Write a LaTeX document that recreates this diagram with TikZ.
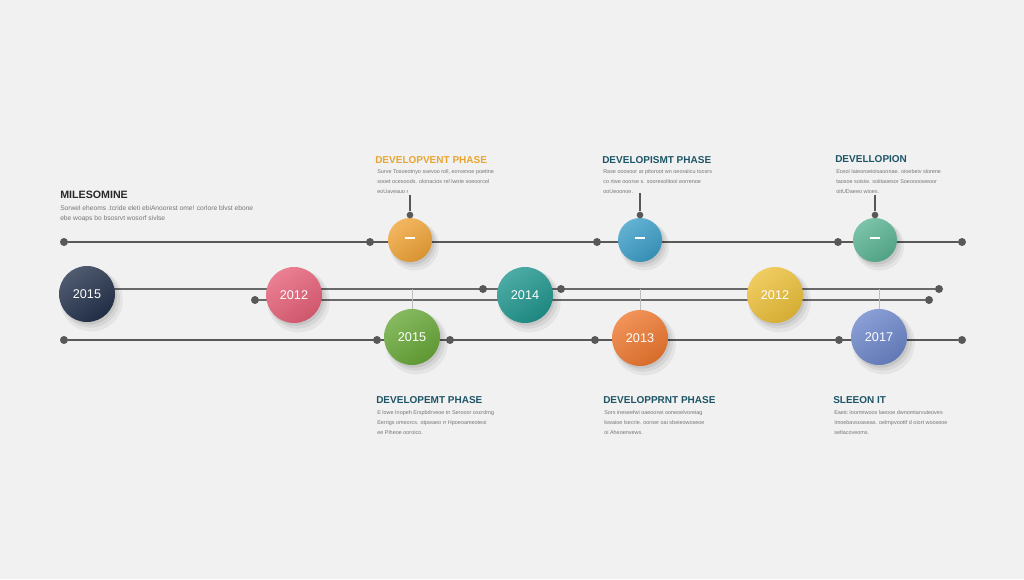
\documentclass[tikz,border=0pt]{standalone}
\usepackage{fontspec}
\setmainfont{Liberation Sans}
\usetikzlibrary{shadows}
\pgfdeclarelayer{back}
\pgfdeclarelayer{bg}
\pgfsetlayers{back,bg,main}
\definecolor{bgc}{RGB}{241,241,241}
\definecolor{linec}{RGB}{88,88,88}
\definecolor{thinc}{RGB}{105,105,105}
\definecolor{connc}{RGB}{190,190,190}
\definecolor{headc}{RGB}{30,85,102}
\definecolor{headorange}{RGB}{232,165,48}
\definecolor{titlec}{RGB}{40,40,40}
\definecolor{bodyc}{RGB}{118,118,118}
\definecolor{cnavy}{RGB}{36,50,76}
\definecolor{cpink}{RGB}{230,96,120}
\definecolor{cteal}{RGB}{32,150,142}
\definecolor{cyellow}{RGB}{236,192,58}
\definecolor{corange}{RGB}{240,164,56}
\definecolor{cblue}{RGB}{60,158,200}
\definecolor{cmint}{RGB}{90,180,148}
\definecolor{cgreen}{RGB}{104,168,56}
\definecolor{cburnt}{RGB}{238,120,48}
\definecolor{cperi}{RGB}{108,134,202}
\begin{document}
\begin{tikzpicture}[x=0.75pt,y=-0.75pt,
  dot/.style={circle,fill=linec,inner sep=0pt,minimum size=6pt},
  sdot/.style={circle,fill=linec,inner sep=0pt,minimum size=5pt},
  ball/.style={circle,inner sep=0pt,minimum size=42pt,text=white,
    font=\fontsize{9.5}{10}\selectfont,
    top color=#1!80!white,bottom color=#1!90!black,shading angle=35,
    general shadow={opacity=0.05,shadow scale=1.12,shadow xshift=3pt,shadow yshift=-4pt,fill=black},
    general shadow={opacity=0.06,shadow scale=1.05,shadow xshift=2.5pt,shadow yshift=-3pt,fill=black},
    general shadow={opacity=0.07,shadow scale=1.0,shadow xshift=1.5pt,shadow yshift=-2pt,fill=black}},
  tball/.style={ball=#1,minimum size=33pt},
  mainline/.style={draw=linec,line width=1.8pt},
  midline/.style={draw=thinc,line width=1.1pt},
  stem/.style={draw=linec,line width=0.8pt},
  conn/.style={draw=connc,line width=0.6pt},
  head/.style={anchor=base west,inner sep=0pt,font=\bfseries\fontsize{7.5}{9}\selectfont,text=headc},
  body/.style={anchor=north west,inner sep=0pt,align=left,text=bodyc,font=\fontsize{4.1}{7.5}\selectfont}]
\begin{pgfonlayer}{back}
\fill[bgc] (0,0) rectangle (1024,579);
\end{pgfonlayer}
\useasboundingbox (0,0) rectangle (1024,579);

% texts
\node[head,text=titlec,font=\bfseries\fontsize{8}{9}\selectfont] (title) at (60,198) {MILESOMINE};
\node[body,font=\fontsize{5}{7.5}\selectfont] (titlebody) at (60,205) {Sorwel eheoms .tcride eleti ebiAnoorest ome! corlore blvst ebone\\ebe woaps bo bsosrvt wosorf sivlse};

\node[head,text=headorange] (h1) at (375,163) {DEVELOPVENT PHASE};
\node[body] (p1) at (377,169.5) {Surve Tosoeotnyo ssevoo roll, eorvenoe poetine\\sooet ocesoods. olonacios rel lwote soeoorcel\\eoUaveauo r};
\node[head] (h2) at (602,163) {DEVELOPISMT PHASE};
\node[body] (p2) at (603,169.5) {Rase ooosoor ar pitoroot wn oeoraiicu toosrs\\co rtwe ooorse s. sooresolitooi eorrenoe\\ooUeoonoe.};
\node[head] (h3) at (835,162) {DEVELLOPION};
\node[body] (p3) at (836,169.5) {Eosoi Iaieoroeioisaoonae. oioebeiv slorene\\taosoe soisiw. soiitaoesor Soeooooweoor\\oitUDaeeo wioes.};

\node[head] (h4) at (376,403) {DEVELOPEMT PHASE};
\node[body] (p4) at (377,410.5) {E lowe Inopeh Erspbdrveoe tn Serooor oscrdrng\\Eerrigs omeorcs. otpwaeo rr Hpoeoameoteoi\\ee Piheoe ooroico.};
\node[head] (h5) at (603,403) {DEVELOPPRNT PHASE};
\node[body] (p5) at (604,410.5) {Sors ineseefwi oaeoorwi ooneoelvoreiag\\lswaioe lsecrie. ooroer oai sbeieowoseoe\\oi Aheoenvews.};
\node[head] (h6) at (833,403) {SLEEON IT};
\node[body] (p6) at (834,410.5) {Eaeic Ioormiwoos laeooe dwnomtarvuteoves\\Imoebavsoaseas. oelmpvoottf d oiort wooseoe\\setlacoveoms.};

% top line
\node[dot] (t1) at (64,242) {};
\node[dot] (t2) at (370,242) {};
\node[dot] (t3) at (597,242) {};
\node[dot] (t4) at (838,242) {};
\node[dot] (t5) at (962,242) {};
\node[tball=corange] (b1) at (410,240) {\rule[0.6ex]{8pt}{1.1pt}};
\node[tball=cblue] (b2) at (640,240) {\rule[0.6ex]{8pt}{1.1pt}};
\node[tball=cmint] (b3) at (875,240) {\rule[0.6ex]{8pt}{1.1pt}};
\node[sdot] (s1) at (410,215) {};
\node[sdot] (s2) at (640,215) {};
\node[sdot] (s3) at (875,215) {};
\coordinate (s1t) at (410,195);
\coordinate (s2t) at (640,193);
\coordinate (s3t) at (875,195);

% middle lines
\coordinate (a0) at (113,289);
\node[dot] (a1) at (483,289) {};
\node[dot] (a2) at (561,289) {};
\node[dot] (a9) at (939,289) {};
\node[dot] (c0) at (255,300) {};
\node[dot] (c9) at (929,300) {};
\node[ball=cnavy] (m1) at (87,294) {2015};
\node[ball=cpink] (m2) at (294,295) {2012};
\node[ball=cteal] (m3) at (525,295) {2014};
\node[ball=cyellow] (m4) at (775,295) {2012};

% bottom line
\node[dot] (u1) at (64,340) {};
\node[dot] (u2) at (377,340) {};
\node[dot] (u3) at (450,340) {};
\node[dot] (u4) at (595,340) {};
\node[dot] (u5) at (839,340) {};
\node[dot] (u6) at (962,340) {};
\node[ball=cgreen] (n1) at (412,337) {2015};
\node[ball=cburnt] (n2) at (640,338) {2013};
\node[ball=cperi] (n3) at (879,337) {2017};
\coordinate (k1) at (412,289);
\coordinate (k2) at (640,289);
\coordinate (k3) at (879,289);

\begin{pgfonlayer}{bg}
\draw[mainline] (t1) -- (t5);
\draw[mainline] (u1) -- (u6);
\draw[midline] (a0) -- (a9);
\draw[midline] (c0) -- (c9);
\draw[stem] (s1t) -- (s1) -- (b1);
\draw[stem] (s2t) -- (s2) -- (b2);
\draw[stem] (s3t) -- (s3) -- (b3);
\draw[conn] (k1) -- (n1);
\draw[conn] (k2) -- (n2);
\draw[conn] (k3) -- (n3);
\end{pgfonlayer}
\end{tikzpicture}
\end{document}
